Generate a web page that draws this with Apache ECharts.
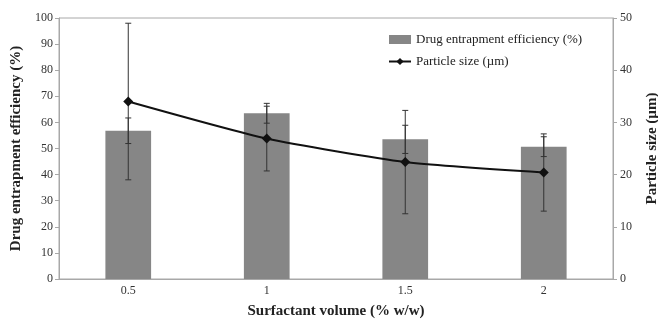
<!DOCTYPE html>
<html><head><meta charset="utf-8">
<script src="https://cdn.jsdelivr.net/npm/echarts@6/dist/echarts.min.js"></script>
<style>html,body{margin:0;padding:0;background:#fff}#c{width:658px;height:321px}</style>
</head><body><div id="c"></div>
<script>
const categories = ['0.5', '1', '1.5', '2'];
const entrapment = [56.8, 63.5, 53.5, 50.7];
const entrapmentErr = [4.9, 3.8, 5.4, 3.8];
const particleSize = [34.0, 26.9, 22.4, 20.4];
const particleErr = [15.0, 6.2, 9.9, 7.4];
const leftTicks = [0, 100, 10];
const rightTicks = [0, 50, 10];

const serif = 'Liberation Serif, Times New Roman, serif';
const errData = (vals, errs) => vals.map((v, i) => [i, v - errs[i], v + errs[i]]);

function errRender(params, api) {
  const x = api.value(0);
  const lo = api.coord([x, api.value(1)]);
  const hi = api.coord([x, api.value(2)]);
  const w = 3;
  const st = { stroke: '#333', lineWidth: 1 };
  return {
    type: 'group',
    children: [
      { type: 'line', shape: { x1: lo[0], y1: lo[1], x2: hi[0], y2: hi[1] }, style: st },
      { type: 'line', shape: { x1: lo[0] - w, y1: lo[1], x2: lo[0] + w, y2: lo[1] }, style: st },
      { type: 'line', shape: { x1: hi[0] - w, y1: hi[1], x2: hi[0] + w, y2: hi[1] }, style: st }
    ]
  };
}

const chart = echarts.init(document.getElementById('c'));
chart.setOption({
  animation: false,
  textStyle: { fontFamily: serif },
  grid: {
    left: 59, right: 45, top: 18, bottom: 42, containLabel: false, outerBoundsMode: 'none',
    show: true, borderColor: '#a8a8a8', borderWidth: 1
  },
  legend: {
    orient: 'vertical', left: 383, top: 28, itemGap: 9, itemWidth: 22, itemHeight: 9,
    textStyle: { fontFamily: serif, fontSize: 13, color: '#222' },
    data: [
      { name: 'Drug entrapment efficiency (%)', icon: 'rect' },
      { name: 'Particle size (µm)' }
    ]
  },
  xAxis: {
    type: 'category', data: categories,
    axisLine: { lineStyle: { color: '#a8a8a8' } },
    axisTick: { show: false },
    axisLabel: { color: '#333', fontSize: 12, fontFamily: serif, margin: 6 },
    name: 'Surfactant volume (% w/w)', nameLocation: 'middle', nameGap: 25,
    nameTextStyle: { fontFamily: serif, fontWeight: 'bold', fontSize: 15, color: '#222' }
  },
  yAxis: [
    {
      type: 'value', min: leftTicks[0], max: leftTicks[1], interval: leftTicks[2],
      splitLine: { show: false },
      axisLine: { show: true, lineStyle: { color: '#a8a8a8' } },
      axisTick: { show: true, length: 4, lineStyle: { color: '#a8a8a8' } },
      axisLabel: { color: '#333', fontSize: 12, fontFamily: serif, margin: 6 },
      name: 'Drug entrapment efficiency (%)', nameLocation: 'middle', nameGap: 34, nameRotate: 90,
      nameTextStyle: { fontFamily: serif, fontWeight: 'bold', fontSize: 15, color: '#222' }
    },
    {
      type: 'value', min: rightTicks[0], max: rightTicks[1], interval: rightTicks[2],
      position: 'right',
      splitLine: { show: false },
      axisLine: { show: true, lineStyle: { color: '#a8a8a8' } },
      axisTick: { show: true, length: 4, lineStyle: { color: '#a8a8a8' } },
      axisLabel: { color: '#333', fontSize: 12, fontFamily: serif, margin: 7 },
      name: 'Particle size (µm)', nameLocation: 'middle', nameGap: 32, nameRotate: 90,
      nameTextStyle: { fontFamily: serif, fontWeight: 'bold', fontSize: 15, color: '#222' }
    }
  ],
  series: [
    {
      name: 'Drug entrapment efficiency (%)', type: 'bar', data: entrapment,
      barWidth: '33%', itemStyle: { color: '#868686' }, z: 2
    },
    {
      name: 'DEE error', type: 'custom', renderItem: errRender,
      data: errData(entrapment, entrapmentErr), z: 3, silent: true
    },
    {
      name: 'Particle size (µm)', type: 'line', yAxisIndex: 1, data: particleSize,
      symbol: 'diamond', symbolSize: 10, smooth: 0.2, itemStyle: { color: '#111' },
      lineStyle: { color: '#111', width: 2 }, z: 5
    },
    {
      name: 'PS error', type: 'custom', yAxisIndex: 1, renderItem: errRender,
      data: errData(particleSize, particleErr), z: 4, silent: true
    }
  ]
});
</script>
</body></html>
